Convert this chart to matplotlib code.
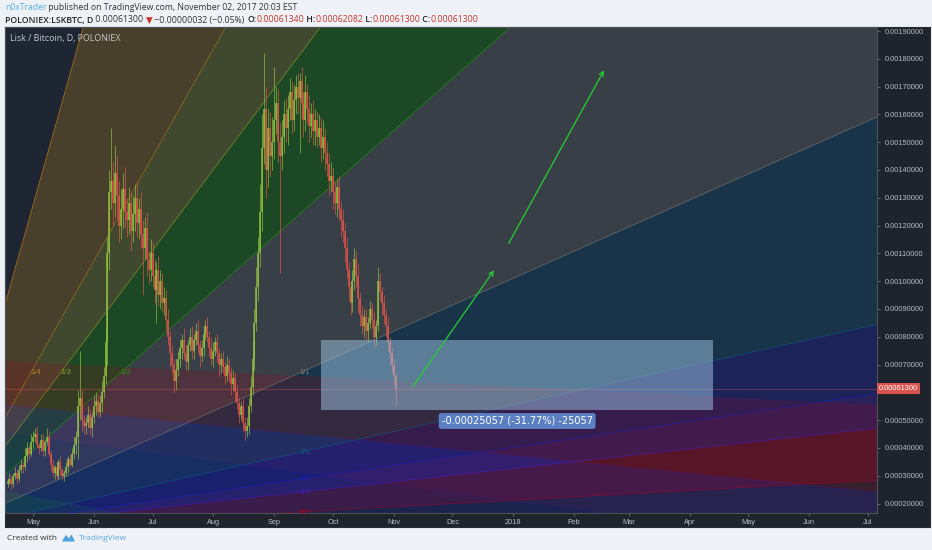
import datetime as dt
import matplotlib
matplotlib.use('Agg')
import matplotlib.pyplot as plt
import matplotlib.dates as mdates
import matplotlib.transforms as mtrans
from matplotlib.patches import Polygon, Rectangle

W, H = 932, 550

# LSK/BTC daily candles, prices in 1e-5 BTC, first candle on 2017-04-18
start = dt.date(2017, 4, 18)
first_open = 27
closes = [28, 29, 27, 30, 31, 29, 32,
          34, 33, 37, 40, 38, 42, 44,
          45, 41, 40, 43, 39, 42, 44,
          38, 34, 31, 33, 30, 35, 32, 30,
          31, 33, 36, 34, 38, 41, 44,
          55, 58, 50, 48,
          49, 52, 47, 51, 55, 57, 53,
          56, 60, 66,
          78, 110, 132,
          136, 128, 139, 131, 120, 126, 133, 125,
          122, 128, 118, 124, 130, 121, 126,
          117, 112, 119, 108, 104, 110,
          102, 97, 104, 95, 100, 92, 94,
          86, 80, 74, 70, 64, 68, 72,
          76, 79, 74, 71, 77, 80, 75,
          79, 82, 77, 73, 76, 81, 84,
          80, 76, 72, 75, 78, 74, 70,
          72, 69, 66, 70, 67, 63, 65,
          60, 56, 52, 55, 49, 46, 48,
          55, 62, 72, 85, 98, 110,
          125, 148, 162, 140, 155, 145, 150,
          158, 164, 150, 145, 152, 160, 155,
          162, 168, 158, 165, 170, 166, 172,
          164, 158, 168, 162, 156, 160, 154,
          158, 152, 155, 148, 152, 146, 142,
          136, 138, 132, 128, 134, 126, 122,
          118, 112, 104, 98, 92, 100,
          108, 102, 94, 88, 84, 87,
          82, 85, 90, 86, 80, 84,
          100, 96, 92, 88, 84,
          78, 74, 70, 66, 61.3]
wick_hi = [1, 2, 1, 1, 2, 1, 2,
           2, 1, 3, 2, 1, 3, 2,
           2, 3, 1, 2, 2, 1, 3,
           2, 1, 2, 1, 2, 1, 2, 1,
           1, 2, 1, 2, 2, 3, 2,
           6, 17, 3, 2,
           2, 3, 2, 2, 4, 3, 2,
           3, 4, 3,
           5, 6, 8,
           19, 7, 10, 6, 5, 7, 6, 8,
           5, 6, 4, 7, 5, 6, 4,
           6, 5, 4, 6, 3, 5,
           4, 6, 3, 5, 4, 3, 4,
           3, 4, 2, 3, 2, 4, 3,
           3, 2, 4, 3, 2, 3, 4,
           2, 3, 4, 2, 3, 3, 2,
           3, 2, 4, 3, 2, 3, 2,
           2, 3, 2, 3, 2, 2, 3,
           2, 3, 2, 2, 3, 2, 3,
           3, 4, 6, 5, 7, 6,
           10, 12, 20, 8, 7, 6, 9,
           19, 6, 5, 7, 6, 5, 6,
           5, 5, 4, 6, 4, 5, 3,
           5, 4, 6, 3, 5, 4, 5,
           4, 3, 5, 4, 6, 3, 4,
           4, 5, 3, 4, 3, 4, 3,
           4, 3, 4, 3, 2, 4,
           4, 3, 4, 2, 3, 3,
           3, 2, 3, 2, 3, 2,
           5, 3, 2, 3, 2,
           3, 2, 2, 2, 0.8]
wick_lo = [1, 1, 2, 1, 1, 2, 1,
           1, 2, 1, 2, 2, 1, 2,
           2, 1, 2, 1, 2, 2, 1,
           1, 2, 1, 2, 1, 1, 2, 1,
           2, 1, 2, 1, 1, 2, 3,
           8, 5, 4, 3,
           3, 2, 2, 3, 2, 3, 2,
           2, 3, 2,
           3, 8, 6,
           6, 8, 5, 9, 6, 5, 7, 6,
           6, 5, 7, 4, 6, 5, 6,
           5, 17, 4, 6, 5, 4,
           4, 5, 12, 4, 5, 3, 4,
           4, 3, 5, 3, 4, 3, 2,
           3, 4, 2, 3, 3, 2, 3,
           3, 2, 3, 4, 2, 3, 2,
           2, 3, 2, 3, 2, 3, 4,
           3, 2, 3, 2, 3, 4, 2,
           3, 2, 3, 2, 3, 3, 2,
           3, 2, 3, 4, 3, 5,
           5, 7, 6, 10, 6, 7, 5,
           6, 5, 7, 42, 5, 6, 5,
           6, 4, 5, 4, 5, 6, 20,
           5, 6, 4, 5, 6, 4, 5,
           5, 4, 3, 5, 4, 6, 4,
           5, 4, 6, 4, 5, 4, 6,
           4, 5, 3, 5, 4, 3,
           3, 4, 5, 4, 3, 4,
           3, 4, 2, 3, 4, 3,
           2, 3, 4, 3, 4,
           3, 4, 3, 3, 6.3]

# 0.0006 is hidden behind the last-price label
price_ticks = [0.0002, 0.0003, 0.0004, 0.0005, 0.0007, 0.0008, 0.0009,
               0.0010, 0.0011, 0.0012, 0.0013, 0.0014, 0.0015, 0.0016, 0.0017,
               0.0018, 0.0019]
month_dates = [dt.date(2017, 5, 1), dt.date(2017, 6, 1), dt.date(2017, 7, 1),
               dt.date(2017, 8, 1), dt.date(2017, 9, 1), dt.date(2017, 10, 1),
               dt.date(2017, 11, 1), dt.date(2017, 12, 1), dt.date(2018, 1, 1),
               dt.date(2018, 2, 1), dt.date(2018, 3, 1), dt.date(2018, 4, 1),
               dt.date(2018, 5, 1), dt.date(2018, 6, 1), dt.date(2018, 7, 1)]
month_labels = ['May', 'Jun', 'Jul', 'Aug', 'Sep', 'Oct', 'Nov', 'Dec', '2018',
                'Feb', 'Mar', 'Apr', 'May', 'Jun', 'Jul']

# gann fans: origin and 1/1 point
fan1_a = (dt.date(2017, 3, 15), 0.000098)
fan1_b = (dt.date(2017, 9, 14), 0.00067)
fan2_a = (dt.date(2016, 2, 3), 0.000864)
fan2_b = (dt.date(2016, 8, 21), 0.0003)
levels = ['1/8', '1/4', '1/3', '1/2', '1/1', '2/1', '3/1', '4/1', '8/1']
level_mult = [8, 4, 3, 2, 1, 1 / 2, 1 / 3, 1 / 4, 1 / 8]
level_colors = ['#ff9800', '#c38a18', '#a3b325', '#14af00', '#8a8a80',
                '#08618e', '#111dcd', '#5114cd', '#b0001a']

# price range tool
box_t = (dt.date(2017, 9, 25), dt.date(2018, 4, 13))
box_p = (0.00053813, 0.00078870)
box_label = '-0.00025057 (-31.77%) -25057'
box_label_at = (dt.date(2018, 1, 3), 0.000497)

arrows = [((dt.date(2017, 11, 10), 0.000612), (dt.date(2017, 12, 23), 0.001047)),
          ((dt.date(2017, 12, 29), 0.001127), (dt.date(2018, 2, 17), 0.001767))]
last_price = 0.000613

# ---------------------------------------------------------------
fig = plt.figure(figsize=(W / 100, H / 100), dpi=100)
fig.patch.set_facecolor('#eef1f5')

panel = fig.add_axes([5 / W, (H - 527) / H, 925 / W, 500 / H])
panel.set_facecolor('#1f232b')
panel.set_xticks([])
panel.set_yticks([])
for sp in panel.spines.values():
    sp.set_color('#2a2e36')

ax = fig.add_axes([5 / W, (H - 513) / H, 872 / W, 486 / H])
ax.set_facecolor('#1f2633')
x0 = mdates.date2num(dt.date(2017, 4, 16)) + 0.71
x1 = mdates.date2num(dt.date(2018, 7, 5)) + 0.6
ax.set_xlim(x0, x1)
ax.set_ylim(0.000166, 0.0019144)


def draw_fan(a, b, alpha, line_alpha, labels):
    t0, p0 = mdates.date2num(a[0]), a[1]
    t1, p1 = mdates.date2num(b[0]), b[1]
    s = (p1 - p0) / (t1 - t0)
    T = x1 + 60
    ends = [p0 + m * s * (T - t0) for m in level_mult]
    for i in range(1, len(levels)):
        ax.add_patch(Polygon([(t0, p0), (T, ends[i - 1]), (T, ends[i])],
                             closed=True, facecolor=level_colors[i], alpha=alpha,
                             edgecolor='none', zorder=1))
    for i, m in enumerate(level_mult):
        ax.plot([t0, T], [p0, ends[i]], color=level_colors[i], lw=0.6,
                alpha=line_alpha, zorder=2)
        if labels:
            if m >= 1:
                lx, ly = t0 + (t1 - t0) / m, p1
            else:
                lx, ly = t1, p0 + (p1 - p0) * m
            if lx > x0 + 1:
                ax.text(lx, ly, levels[i], color=level_colors[i], fontsize=5.5,
                        ha='left', va='center', alpha=0.85, zorder=3,
                        family='Liberation Sans')


draw_fan(fan1_a, fan1_b, 0.25, 0.55, True)
draw_fan(fan2_a, fan2_b, 0.18, 0.2, False)

# candles
up_col, dn_col = '#93c23f', '#e2554b'
prev = first_open
for i, c in enumerate(closes):
    o = prev
    t = mdates.date2num(start + dt.timedelta(days=i))
    hi = (max(o, c) + wick_hi[i]) * 1e-5
    lo = (min(o, c) - wick_lo[i]) * 1e-5
    col = up_col if c >= o else dn_col
    ax.vlines(t, lo, hi, color=col, lw=0.55, alpha=0.85, zorder=4)
    b0, b1 = min(o, c) * 1e-5, max(o, c) * 1e-5
    if b1 - b0 < 0.4e-5:
        b1 = b0 + 0.4e-5
    ax.vlines(t, b0, b1, color=col, lw=1.2, alpha=0.9, zorder=4)
    prev = c

# last price line
ax.axhline(last_price, color='#e05050', lw=0.5, alpha=0.55, zorder=5)

# price range box
bx0, bx1 = mdates.date2num(box_t[0]), mdates.date2num(box_t[1])
ax.add_patch(Rectangle((bx0, box_p[0]), bx1 - bx0, box_p[1] - box_p[0],
                       facecolor='#a0c7e5', alpha=0.5, edgecolor='none', zorder=6))
ax.text(mdates.date2num(box_label_at[0]), box_label_at[1], box_label,
        color='white', fontsize=7.0, ha='center', va='center', zorder=8,
        family='DejaVu Sans',
        bbox=dict(boxstyle='round,pad=0.3,rounding_size=0.25',
                  facecolor='#5b80c2', edgecolor='none'))

for (ta, pa), (tb, pb) in arrows:
    ax.annotate('', xy=(mdates.date2num(tb), pb), xytext=(mdates.date2num(ta), pa),
                arrowprops=dict(arrowstyle='->', color='#22d030', lw=0.9,
                                mutation_scale=8), zorder=7)

# axes styling
ax.yaxis.tick_right()
ax.set_yticks(price_ticks)
ax.set_yticklabels(['%.8f' % p for p in price_ticks])
ax.set_xticks([mdates.date2num(d) for d in month_dates])
ax.set_xticklabels(month_labels)
ax.tick_params(axis='both', colors='#6b6f77', labelcolor='#b8bbc2', length=2.5,
               width=0.6, labelsize=5.3)
ax.tick_params(axis='y', pad=3)
ax.tick_params(axis='x', pad=1.5)
for lab in ax.get_xticklabels() + ax.get_yticklabels():
    lab.set_family('Liberation Sans')
for side, sp in ax.spines.items():
    sp.set_color('#4d5159')
    sp.set_linewidth(0.8)

ax.text(1.0 + 2 / 872, last_price, '%.8f' % last_price,
        transform=mtrans.blended_transform_factory(ax.transAxes, ax.transData),
        color='white', fontsize=5.3, ha='left', va='center', zorder=9,
        family='Liberation Sans', clip_on=False,
        bbox=dict(boxstyle='square,pad=0.3', facecolor='#d9534f', edgecolor='none'))

ax.text(5 / 872, 1 - 11 / 486, 'Lisk / Bitcoin, D, POLONIEX', transform=ax.transAxes,
        color='#c5c8ce', fontsize=6.4, ha='left', va='center', zorder=9,
        family=['Open Sans', 'DejaVu Sans'])

# header and footer
renderer = fig.canvas.get_renderer()


def put_line(parts, x, y, size):
    for txt, color, weight in parts:
        t = fig.text(x / W, 1 - y / H, txt, color=color, fontsize=size,
                     fontweight=weight, family=['Open Sans', 'DejaVu Sans'],
                     ha='left', va='center')
        x += t.get_window_extent(renderer).width
    return x


dark, red = '#333333', '#d0342c'
put_line([('n0xTrader', '#55b3e3', 'normal'),
          (' published on TradingView.com, November 02, 2017 20:03 EST', dark, 'normal')],
         5, 7, 6.2)
put_line([('POLONIEX:LSKBTC, D', '#222222', 'semibold'),
          (' 0.00061300 ', dark, 'normal'), ('\u25bc', red, 'normal'),
          (' \u22120.00000032 (\u22120.05%) ', dark, 'normal'),
          ('O:', '#222222', 'semibold'), ('0.00061340', red, 'normal'),
          (' H:', '#222222', 'semibold'), ('0.00062082', red, 'normal'),
          (' L:', '#222222', 'semibold'), ('0.00061300', red, 'normal'),
          (' C:', '#222222', 'semibold'), ('0.00061300', red, 'normal')],
         5, 20, 6.3)

fx = put_line([('Created with', dark, 'normal')], 7, 538, 6.0)
logo = [(fx + 5, 541.5), (fx + 9, 535), (fx + 12, 538.5), (fx + 14.5, 534.5), (fx + 18, 541.5)]
fig.patches.append(Polygon([(px / W, 1 - py / H) for px, py in logo], closed=True,
                           facecolor='#4aa3df', edgecolor='none',
                           transform=fig.transFigure, figure=fig))
put_line([('TradingView', '#5aa9e6', 'normal')], fx + 22, 538, 6.0)

fig.savefig('out.png', dpi=100, facecolor=fig.get_facecolor())
